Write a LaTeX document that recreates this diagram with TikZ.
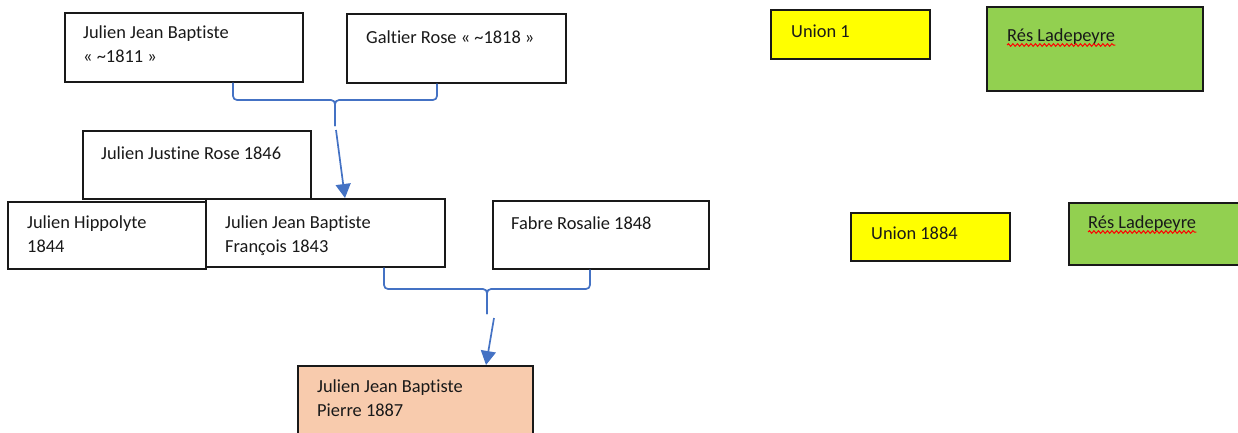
\documentclass[tikz,border=0pt]{standalone}
\usepackage{fontspec}
\setmainfont[Ligatures={NoCommon}]{Carlito}
\usetikzlibrary{arrows.meta,calc,decorations.pathmorphing}
\definecolor{linkblue}{HTML}{4472C4}
\definecolor{unionyellow}{HTML}{FFFF00}
\definecolor{resgreen}{HTML}{92D050}
\definecolor{childsalmon}{HTML}{F8CBAD}
\newcommand{\twoline}[2]{\vtop{\hbox{#1}\hbox{#2}}}
\begin{document}
\begin{tikzpicture}[x=1pt,y=-1pt,
  box/.style={draw=black!90, line width=1.5pt, fill=white, inner sep=0pt, anchor=north west},
  txt/.style={anchor=base west, inner sep=0pt, font=\fontsize{18.4}{24}\selectfont, text=black!90},
  link/.style={draw=linkblue, line width=1.7pt, rounded corners=4pt},
  arr/.style={draw=linkblue, line width=1.7pt, -{Triangle[width=15pt,length=14pt]}},
  squiggle/.style={draw=red, line width=1pt, decorate, decoration={snake, amplitude=1.3pt, segment length=4.5pt}}
]
\useasboundingbox (0,0) rectangle (1238,432);

% boxes
\node[box, minimum width=238pt, minimum height=69pt] (A) at (64,12) {};
\node[box, minimum width=219pt, minimum height=69pt] (B) at (346,13) {};
\node[box, minimum width=228pt, minimum height=68pt] (C) at (82,130) {};
\node[box, minimum width=239pt, minimum height=68pt] (E) at (205,198) {};
\node[box, minimum width=198pt, minimum height=67pt] (D) at (7,201) {};
\node[box, minimum width=216pt, minimum height=68pt] (F) at (492,200) {};
\node[box, fill=childsalmon, minimum width=235pt, minimum height=80pt] (G) at (297,365) {};
\node[box, fill=unionyellow, minimum width=159pt, minimum height=49pt] (H) at (770,9) {};
\node[box, fill=resgreen, minimum width=216pt, minimum height=84pt] (I) at (986,6) {};
\node[box, fill=unionyellow, minimum width=159pt, minimum height=48pt] (J) at (850,212) {};
\node[box, fill=resgreen, minimum width=190pt, minimum height=62pt] (K) at (1068,202) {};

% texts
\node[txt] (At) at (83,38) {\twoline{Julien Jean Baptiste}{« \textasciitilde1811 »}};
\node[txt] (Bt) at (366,43) {Galtier Rose « \textasciitilde1818 »};
\node[txt] (Ct) at (101,159) {Julien Justine Rose 1846};
\node[txt] (Dt) at (27,228) {\twoline{Julien Hippolyte}{1844}};
\node[txt] (Et) at (225,228) {\twoline{Julien Jean Baptiste}{François 1843}};
\node[txt] (Ft) at (511,229) {Fabre Rosalie 1848};
\node[txt] (Gt) at (317,392) {\twoline{Julien Jean Baptiste}{Pierre 1887}};
\node[txt] (Ht) at (791,37) {Union 1};
\node[txt] (It) at (1007,41) {Rés Ladepeyre};
\node[txt] (Jt) at (871,239) {Union 1884};
\node[txt] (Kt) at (1088,228) {Rés Ladepeyre};

% spell-check underlines
\draw[squiggle] ($(It.base west)+(0,4)$) -- ($(It.base east)+(0,4)$);
\draw[squiggle] ($(Kt.base west)+(0,4)$) -- ($(Kt.base east)+(0,4)$);

% first couple connector
\coordinate (l1) at (233,100);
\coordinate (r1) at (437,100);
\coordinate (m1) at (335,100);
\coordinate (s1) at (335,126);
\coordinate (t1) at (336,130);
\coordinate (h1) at (345,0);
\draw[link] (l1 |- A.south) -- (l1) -- (m1) -- (s1);
\draw[link] (r1 |- B.south) -- (r1) -- (m1) -- (s1);
\draw[arr] (t1) -- (h1 |- E.north);

% second couple connector
\coordinate (l2) at (384,289);
\coordinate (r2) at (590,289);
\coordinate (m2) at (487,289);
\coordinate (s2) at (487,314);
\coordinate (t2) at (494,318);
\coordinate (h2) at (486,0);
\draw[link] (l2 |- E.south) -- (l2) -- (m2) -- (s2);
\draw[link] (r2 |- F.south) -- (r2) -- (m2) -- (s2);
\draw[arr] (t2) -- (h2 |- G.north);
\end{tikzpicture}
\end{document}
